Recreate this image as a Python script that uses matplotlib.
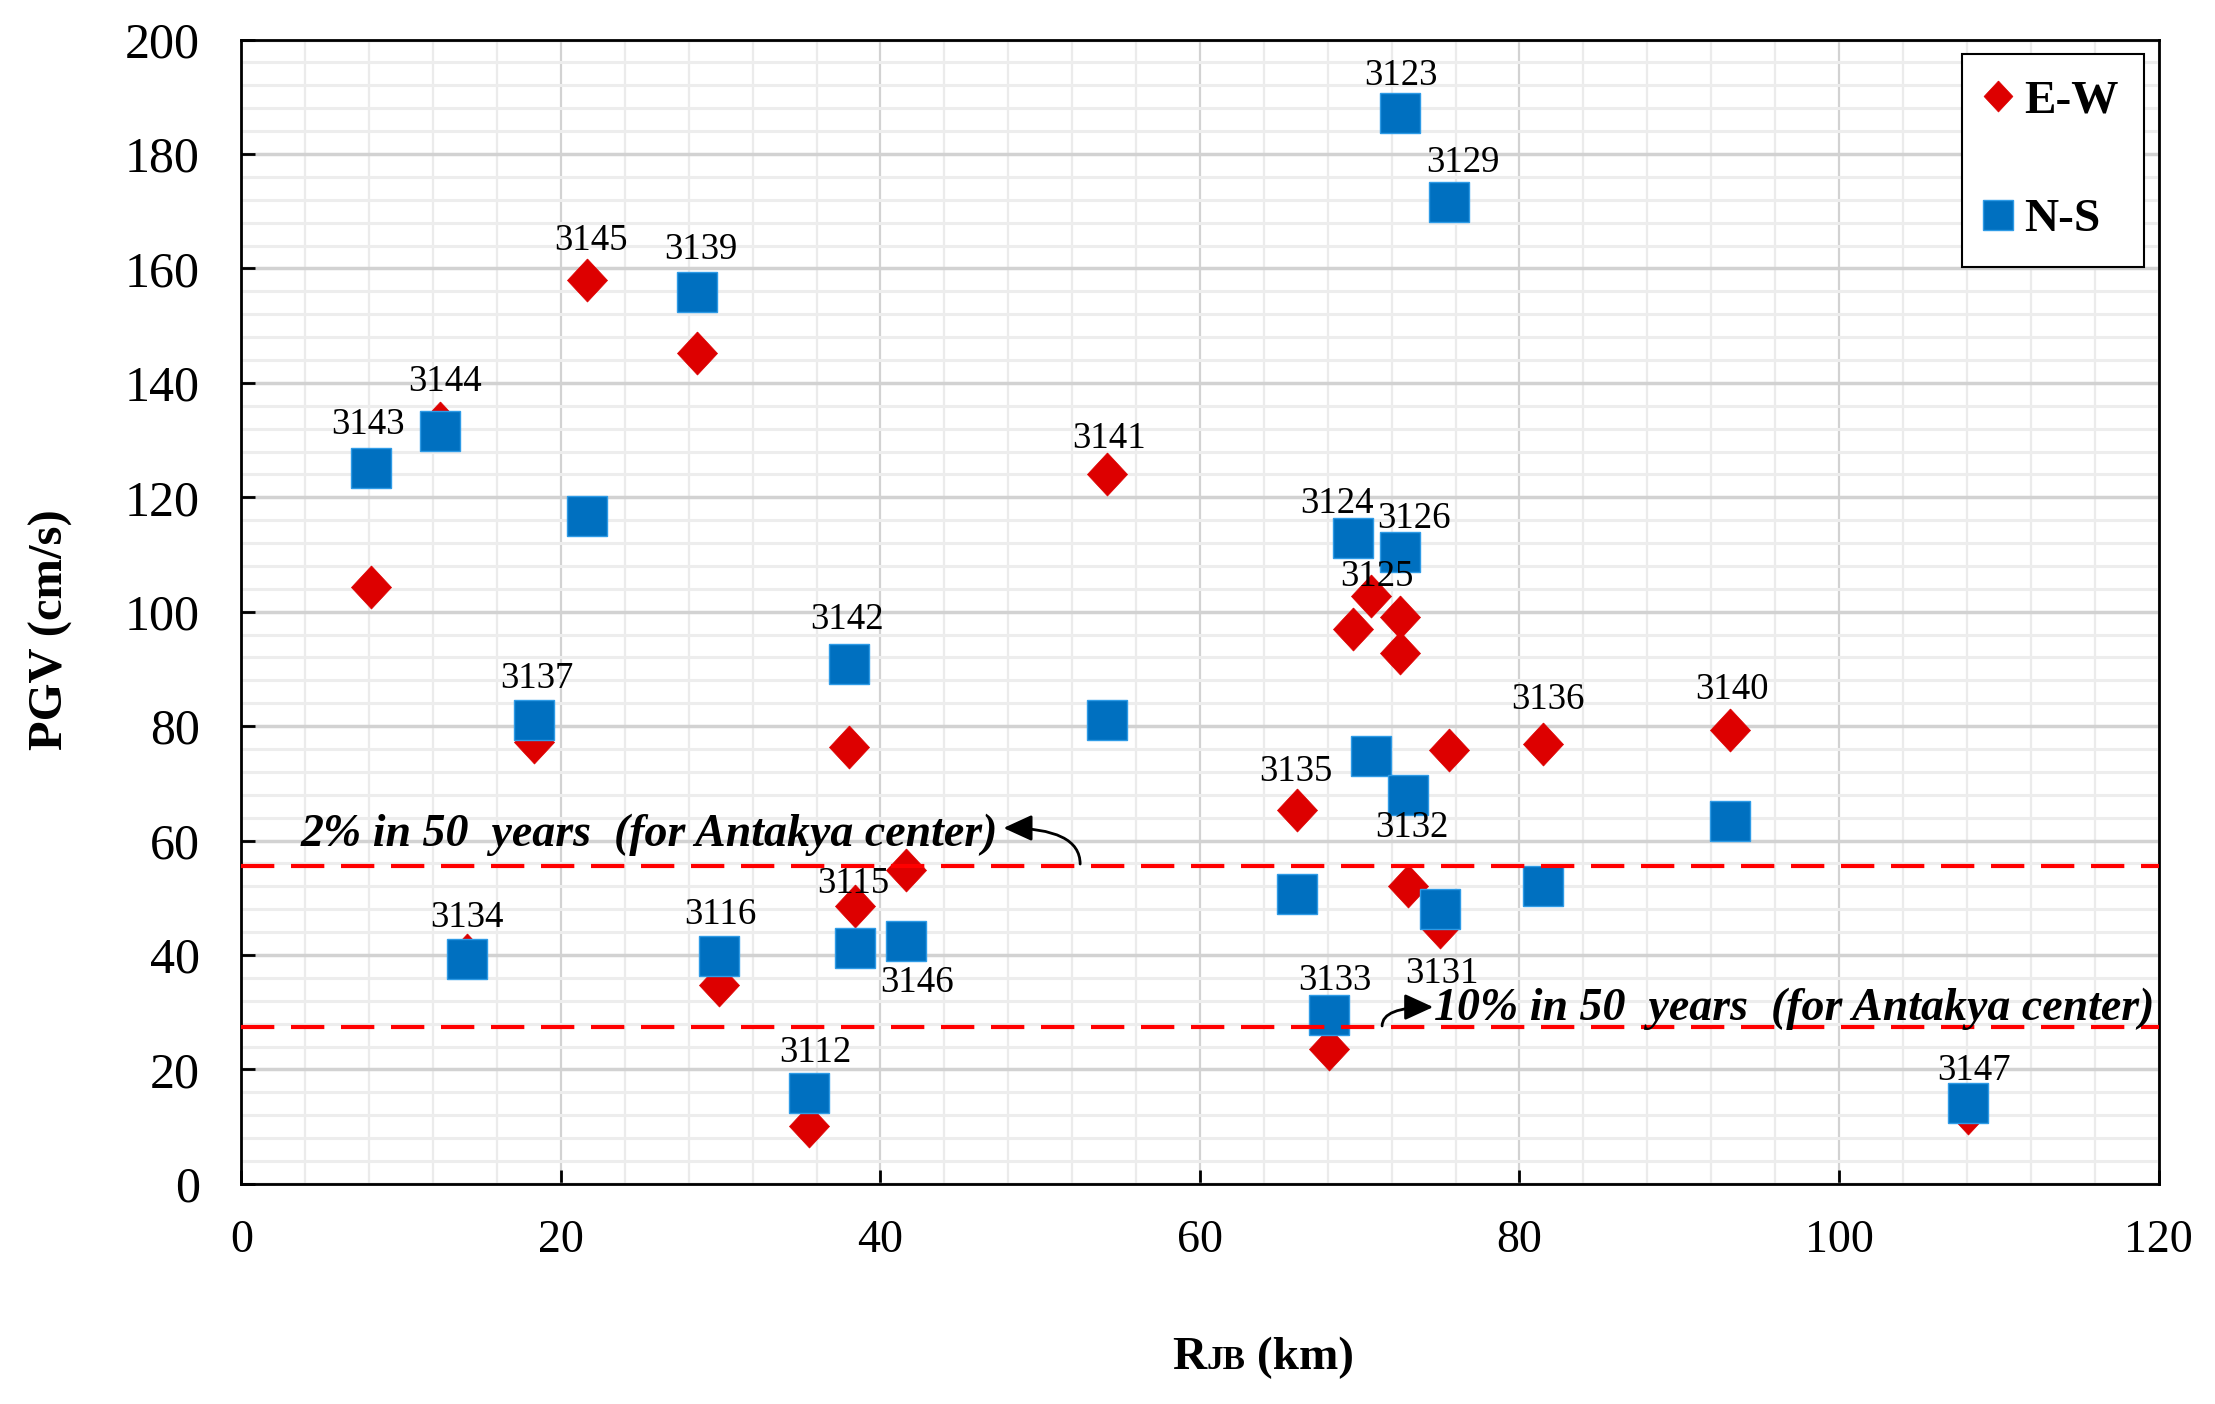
import matplotlib
matplotlib.use("Agg")
import matplotlib.pyplot as plt
from matplotlib.ticker import MultipleLocator
from matplotlib.offsetbox import TextArea, HPacker, AnchoredOffsetbox

plt.rcParams["font.family"] = ["Liberation Serif", "DejaVu Serif"]

# station codes and distances / peak ground velocities
STATIONS = ["3143", "3144", "3145", "3139", "3137", "3134", "3116", "3112",
            "3115", "3146", "3142", "3141", "3123", "3129", "3124", "3126",
            "3125", "3132", "3135", "3131", "3136", "3140", "3133", "3147"]
RJB_KM = [8.1, 12.4, 21.6, 28.5, 18.3, 14.1, 29.9, 35.5,
          38.4, 41.6, 38.0, 54.2, 72.5, 75.6, 69.6, 72.5,
          70.7, 73.0, 66.1, 75.0, 81.5, 93.2, 68.1, 108.1]
PGV_EW = [104.4, 133.0, 158.0, 145.2, 77.3, 40.0, 34.8, 10.1,
          48.6, 54.8, 76.3, 124.0, 92.8, 75.8, 97.0, 99.0,
          102.7, 52.1, 65.4, 44.9, 76.8, 79.3, 23.5, 12.3]
PGV_NS = [125.2, 131.6, 116.8, 155.8, 81.0, 39.3, 39.8, 15.8,
          41.2, 42.5, 90.9, 81.0, 187.2, 171.6, 112.8, 110.4,
          74.8, 67.9, 50.6, 48.1, 52.1, 63.5, 29.6, 14.1]

# hazard levels for Antakya center
PGV_2_IN_50 = 55.6
PGV_10_IN_50 = 27.4

# label offsets (points) from the upper marker of each station
LABEL_OFFSETS = {
    "3143": (-2, 31), "3144": (4, 30), "3145": (3, 28), "3139": (3, 31),
    "3137": (2, 30), "3134": (0, 27), "3116": (1, 30), "3112": (5, 29),
    "3115": (-1, 16), "3146": (8, -81), "3142": (-1, 32), "3141": (1, 26),
    "3123": (1, 27), "3129": (10, 28), "3124": (-12, 25), "3126": (10, 24),
    "3125": (4, 14), "3132": (3, -23), "3135": (-1, 27), "3131": (2, -47),
    "3136": (3, 32), "3140": (1, 29), "3133": (4, 24), "3147": (4, 23),
}

EW_COLOR = "#DD0000"
NS_COLOR = "#0070C0"
DIAMOND = [(0, 1), (0.93, 0), (0, -1), (-0.93, 0), (0, 1)]


def main():
    fig, ax = plt.subplots(figsize=(22.15, 14.04), dpi=100)
    fig.subplots_adjust(left=0.109, right=0.9745, top=0.9718, bottom=0.1568)

    ax.plot(RJB_KM, PGV_EW, ls="none", marker=DIAMOND, ms=31,
            mfc=EW_COLOR, mec=EW_COLOR, mew=0.5, label="E-W", zorder=3)
    ax.plot(RJB_KM, PGV_NS, ls="none", marker="s", ms=29.5,
            mfc=NS_COLOR, mec="#2E9BE6", mew=1, label="N-S", zorder=3.5)

    for st, x, ew, ns in zip(STATIONS, RJB_KM, PGV_EW, PGV_NS):
        ax.annotate(st, xy=(x, max(ew, ns)), xytext=LABEL_OFFSETS[st],
                    textcoords="offset points", ha="center", va="center",
                    fontsize=26.5, zorder=5)

    dash = (0, (8, 4))
    ax.axhline(PGV_2_IN_50, color="#FF0000", lw=3, ls=dash, zorder=4)
    ax.axhline(PGV_10_IN_50, color="#FF0000", lw=3, ls=dash, zorder=4)

    ax.text(3.7, 59.0, "2% in 50  years  (for Antakya center)",
            fontsize=33, fontweight="bold", style="italic",
            ha="left", va="baseline", zorder=6)
    ax.text(74.65, 28.6, "10% in 50  years  (for Antakya center)",
            fontsize=33, fontweight="bold", style="italic",
            ha="left", va="baseline", zorder=6)
    arrow = dict(arrowstyle="-|>,head_length=0.7,head_width=0.32",
                 color="black", lw=2, mutation_scale=25,
                 shrinkA=0, shrinkB=0,
                 connectionstyle="angle3,angleA=90,angleB=0")
    ax.annotate("", xy=(47.7, 62.2), xytext=(52.5, 55.9),
                arrowprops=arrow, zorder=6)
    ax.annotate("", xy=(74.6, 30.9), xytext=(71.4, 27.6),
                arrowprops=arrow, zorder=6)

    ax.set_xlim(0, 120)
    ax.set_ylim(0, 200)
    ax.xaxis.set_major_locator(MultipleLocator(20))
    ax.xaxis.set_minor_locator(MultipleLocator(4))
    ax.yaxis.set_major_locator(MultipleLocator(20))
    ax.yaxis.set_minor_locator(MultipleLocator(4))
    ax.set_axisbelow(True)
    ax.xaxis.grid(True, which="major", color="#D2D2D2", lw=1.6)
    ax.xaxis.grid(True, which="minor", color="#EBEBEB", lw=1.6)
    ax.yaxis.grid(True, which="major", color="#D2D2D2", lw=2.5)
    ax.yaxis.grid(True, which="minor", color="#EDEDED", lw=2.2)

    ax.tick_params(which="major", direction="in", length=10, width=2)
    ax.tick_params(which="minor", length=0)
    ax.tick_params(axis="x", labelsize=33, pad=26)
    ax.tick_params(axis="y", labelsize=36, pad=30)
    for spine in ax.spines.values():
        spine.set_linewidth(2)

    ax.set_ylabel("PGV (cm/s)", fontsize=35, fontweight="bold", va="center")
    ax.yaxis.set_label_coords(-0.0994, 0.484)

    xlabel = HPacker(children=[
        TextArea("R", textprops=dict(fontsize=34, fontweight="bold")),
        TextArea("JB", textprops=dict(fontsize=24, fontweight="bold")),
        TextArea(" (km)", textprops=dict(fontsize=34, fontweight="bold")),
    ], align="baseline", pad=0, sep=0)
    ax.add_artist(AnchoredOffsetbox(loc="center", child=xlabel, pad=0,
                                    borderpad=0, frameon=False,
                                    bbox_to_anchor=(0.533, -0.152),
                                    bbox_transform=ax.transAxes))

    leg = ax.legend(loc="upper right", prop={"weight": "bold", "size": 34},
                    fancybox=False, edgecolor="black", framealpha=1,
                    borderpad=0.55, labelspacing=1.6, handlelength=0.4,
                    handletextpad=0.35, borderaxespad=0.3, markerscale=0.72)
    leg.get_frame().set_linewidth(1.5)

    fig.savefig("out.png", dpi=100)


if __name__ == "__main__":
    main()
